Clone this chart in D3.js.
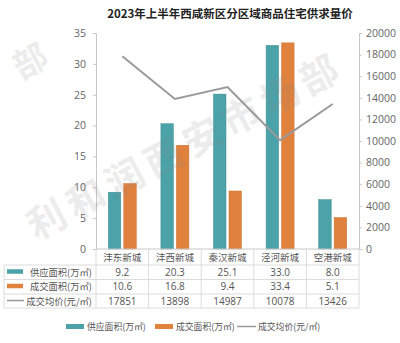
<!DOCTYPE html>
<html><head><meta charset="utf-8">
<script src="https://cdn.jsdelivr.net/npm/d3@7"></script>
<style>body{margin:0;background:#fff}svg{display:block}text{font-family:"Noto Sans CJK SC","Noto Sans",sans-serif}</style>
</head><body><svg id="c" width="400" height="343"></svg>
<script>
const categories = ["沣东新城","沣西新城","秦汉新城","泾河新城","空港新城"];
const supply = [9.2, 20.3, 25.1, 33.0, 8.0];
const deal = [10.6, 16.8, 9.4, 33.4, 5.1];
const price = [17851, 13898, 14987, 10078, 13426];
const leftTicks = [0,5,10,15,20,25,30,35];
const rightTicks = [0,2000,4000,6000,8000,10000,12000,14000,16000,18000,20000];
const seriesNames = ["供应面积(万㎡)","成交面积(万㎡)","成交均价(元/㎡)"];
const title = "2023年上半年西咸新区分区域商品住宅供求量价";
const colors = ["#4ba2a8","#e0813d","#9a9a9a"];

const svg = d3.select("#c");
const L = 96, R = 359, T = 33, B = 249;
const x = d3.scaleBand().domain(categories).range([L,R]);
const y = d3.scaleLinear().domain([0,35]).range([B,T]);
const y2 = d3.scaleLinear().domain([0,20000]).range([B,T]);
const bw = 12.5, gap = 3;
const numFont = "'Open Sans','Noto Sans',sans-serif";

svg.append("text").attr("x",230).attr("y",18).attr("text-anchor","middle")
  .attr("font-size",11.5).attr("font-weight","bold").attr("fill","#222").text(title);

// axes
const ga = svg.append("g").attr("transform",`translate(${L},0)`)
  .call(d3.axisLeft(y).tickValues(leftTicks).tickSize(3).tickPadding(7));
const gb = svg.append("g").attr("transform",`translate(${R},0)`)
  .call(d3.axisRight(y2).tickValues(rightTicks).tickSize(3).tickPadding(4).tickFormat(d3.format("d")));
[ga,gb].forEach(g=>{
  g.select(".domain").attr("stroke","#c8c8c8");
  g.selectAll(".tick line").attr("stroke","#c8c8c8");
  g.selectAll(".tick text").attr("fill","#666").attr("font-size",10.5).style("font-family",numFont);
});

// bars
const gBars = svg.append("g");
gBars.selectAll(".s").data(categories).join("rect")
  .attr("x",d=>x(d)+x.bandwidth()/2-gap/2-bw).attr("width",bw)
  .attr("y",(d,i)=>y(supply[i])).attr("height",(d,i)=>B-y(supply[i]))
  .attr("fill",colors[0]).attr("stroke","#3f8f94").attr("stroke-width",0.5);
gBars.selectAll(".d").data(categories).join("rect")
  .attr("x",d=>x(d)+x.bandwidth()/2+gap/2).attr("width",bw)
  .attr("y",(d,i)=>y(deal[i])).attr("height",(d,i)=>B-y(deal[i]))
  .attr("fill",colors[1]).attr("stroke","#cc7030").attr("stroke-width",0.5);

// line
svg.append("path").datum(price)
  .attr("d",d3.line().x((d,i)=>x(categories[i])+x.bandwidth()/2).y(d=>y2(d)))
  .attr("fill","none").attr("stroke",colors[2]).attr("stroke-width",2);

// x axis line
svg.append("line").attr("x1",L).attr("x2",R).attr("y1",B).attr("y2",B).attr("stroke","#c8c8c8");

// table
const rows = [249,265,279.5,294,308];
const tg = svg.append("g").attr("stroke","#dcdcdc").attr("stroke-width",1);
rows.slice(1).forEach(yy=>tg.append("line").attr("x1",4).attr("x2",R).attr("y1",yy).attr("y2",yy));
tg.append("line").attr("x1",4).attr("x2",4).attr("y1",rows[1]).attr("y2",rows[4]);
categories.forEach(c=>tg.append("line").attr("x1",x(c)).attr("x2",x(c)).attr("y1",B).attr("y2",rows[4]));
tg.append("line").attr("x1",R).attr("x2",R).attr("y1",B).attr("y2",rows[4]);

const tt = svg.append("g").attr("fill","#555").attr("text-anchor","middle");
categories.forEach(c=>tt.append("text").attr("x",x(c)+x.bandwidth()/2).attr("y",(rows[0]+rows[1])/2+3.5)
  .attr("font-size",9.5).text(c));
const data = [supply.map(v=>v.toFixed(1)), deal.map(v=>v.toFixed(1)), price.map(String)];
data.forEach((arr,r)=>{
  const cy = (rows[r+1]+rows[r+2])/2+3.5;
  arr.forEach((v,i)=>tt.append("text").attr("x",x(categories[i])+x.bandwidth()/2).attr("y",cy)
    .attr("font-size",10).style("font-family",numFont).text(v));
  if (r<2) svg.append("rect").attr("x",7).attr("y",cy-6.5).attr("width",16).attr("height",4.5).attr("fill",colors[r]);
  else svg.append("line").attr("x1",7).attr("x2",24).attr("y1",cy-4).attr("y2",cy-4).attr("stroke",colors[2]).attr("stroke-width",1.5);
  svg.append("text").attr("x",92).attr("y",cy).attr("text-anchor","end").attr("font-size",9.3).attr("fill","#555").text(seriesNames[r]);
});

// legend
const lg = svg.append("g").attr("font-size",8.8).attr("fill","#555");
const lx = [66,155,237];
seriesNames.forEach((n,i)=>{
  if (i<2) lg.append("rect").attr("x",lx[i]).attr("y",324).attr("width",18).attr("height",5).attr("fill",colors[i]);
  else lg.append("line").attr("x1",lx[i]).attr("x2",lx[i]+19).attr("y1",326.5).attr("y2",326.5).attr("stroke",colors[2]).attr("stroke-width",1.5);
  lg.append("text").attr("x",lx[i]+21).attr("y",330).text(n);
});

// watermark
const wm = svg.append("g").attr("fill","#888").attr("opacity",0.15).attr("font-weight","bold").attr("font-size",38);
wm.append("text").attr("transform","translate(192,158) rotate(-28)").attr("text-anchor","middle")
  .attr("letter-spacing",6).text("利和润西安市场部");
wm.append("text").attr("transform","translate(36,72) rotate(-28)").attr("text-anchor","middle").attr("font-size",34).text("部");
</script></body></html>
